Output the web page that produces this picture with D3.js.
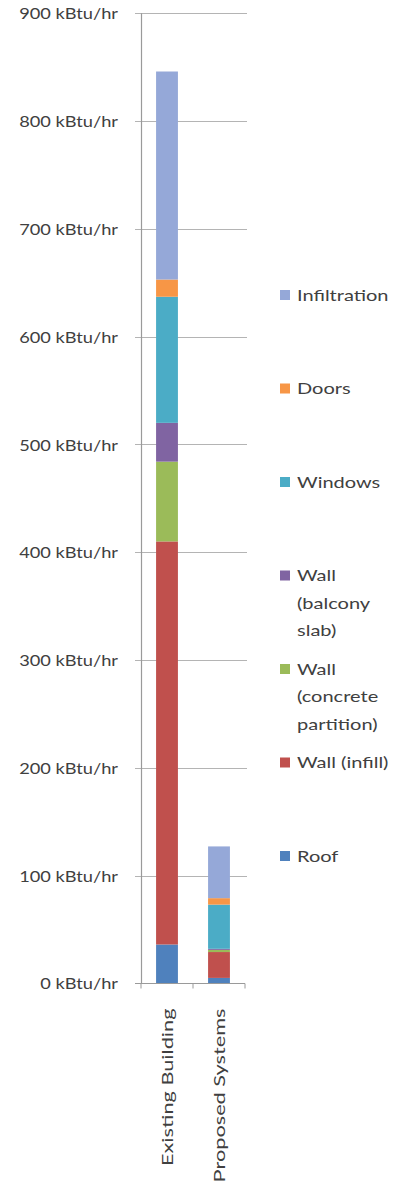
<!DOCTYPE html>
<html>
<head>
<meta charset="utf-8">
<script src="https://cdn.jsdelivr.net/npm/d3@7"></script>
<style>
  html, body { margin: 0; padding: 0; background: #fff; }
  svg { display: block; }
  text { font-family: Lato, "Open Sans", sans-serif; fill: #404040; }
</style>
</head>
<body>
<svg id="chart" width="405" height="1189"></svg>
<script>
// ---------------- data ----------------
const categories = ["Existing Building", "Proposed Systems"];
const seriesNames = ["Roof", "Wall (infill)", "Wall (concrete partition)", "Wall (balcony slab)", "Windows", "Doors", "Infiltration"];
const roof          = [36, 5];
const wallInfill    = [374, 24];
const wallConcrete  = [74, 2];
const wallBalcony   = [36, 1];
const windows       = [117, 41];
const doors         = [16, 6];
const infiltration  = [193, 48];
const yTickValues   = [0, 100, 200, 300, 400, 500, 600, 700, 800, 900];
const yTickSuffix   = " kBtu/hr";
const legendLines = {
  "Infiltration": ["Infiltration"],
  "Doors": ["Doors"],
  "Windows": ["Windows"],
  "Wall (balcony slab)": ["Wall", "(balcony", "slab)"],
  "Wall (concrete partition)": ["Wall", "(concrete", "partition)"],
  "Wall (infill)": ["Wall (infill)"],
  "Roof": ["Roof"]
};

// ---------------- styles / layout ----------------
const colors = ["#4F81BD", "#C0504D", "#9BBB59", "#8064A2", "#4BACC6", "#F79646", "#95A8D8"];
const seriesValues = [roof, wallInfill, wallConcrete, wallBalcony, windows, doors, infiltration];

const plotLeft = 141, plotRight = 245, plotTop = 13.3, plotBottom = 983.3;
const fontSize = 16;
const yStretch = 1.14, xStretch = 1.36, legendStretch = 1.25;
const textColor = "#444";

const svg = d3.select("#chart");

const rows = categories.map((c, i) => {
  const r = { category: c };
  seriesNames.forEach((s, j) => r[s] = seriesValues[j][i]);
  return r;
});
const stacked = d3.stack().keys(seriesNames)(rows);

const x = d3.scaleBand().domain(categories).range([plotLeft, plotRight])
  .paddingInner(0.58).paddingOuter(0.29);
const y = d3.scaleLinear().domain([0, 900]).range([plotBottom, plotTop]);

// gridlines
svg.append("g").attr("class", "grid")
  .selectAll("line").data(yTickValues.filter(d => d > 0)).join("line")
  .attr("x1", plotLeft - 6).attr("x2", plotRight + 2)
  .attr("y1", d => Math.round(y(d)) + 0.5).attr("y2", d => Math.round(y(d)) + 0.5)
  .attr("stroke", "#b4b4b4").attr("stroke-width", 1.2);

// bars
svg.append("g").selectAll("g").data(stacked).join("g")
  .attr("fill", (d, i) => colors[i])
  .selectAll("rect").data(d => d).join("rect")
  .attr("x", d => x(d.data.category))
  .attr("width", x.bandwidth())
  .attr("y", d => y(d[1]))
  .attr("height", d => y(d[0]) - y(d[1]));

// y axis
const yAxis = d3.axisLeft(y).tickValues(yTickValues).tickSize(0).tickFormat(d => d + yTickSuffix);
const gy = svg.append("g").attr("transform", `translate(${plotLeft},0)`).call(yAxis);
gy.select(".domain").remove();
gy.selectAll(".tick text")
  .attr("x", 0).attr("dy", "0.35em")
  .attr("transform", `translate(-23,0) scale(${yStretch},1)`)
  .attr("text-anchor", "end")
  .style("font-size", fontSize + "px").style("font-family", "Lato, sans-serif").attr("fill", textColor);
svg.append("line").attr("x1", plotLeft + 0.5).attr("x2", plotLeft + 0.5)
  .attr("y1", plotTop).attr("y2", plotBottom).attr("stroke", "#9a9a9a").attr("stroke-width", 1.2);
svg.append("line").attr("x1", plotLeft - 6).attr("x2", plotLeft)
  .attr("y1", Math.round(y(0)) + 0.5).attr("y2", Math.round(y(0)) + 0.5).attr("stroke", "#9a9a9a");

// x axis
const xAxis = d3.axisBottom(x).tickSize(0);
const gx = svg.append("g").attr("transform", `translate(0,${Math.round(plotBottom) + 0.5})`).call(xAxis);
gx.select(".domain").attr("stroke", "#9a9a9a").attr("stroke-width", 1.2)
  .attr("d", `M${plotLeft},0H${plotRight}`);
const step = x.step();
const tickXs = [plotLeft, plotLeft + step, plotRight];
gx.selectAll(".xt").data(tickXs).join("line").attr("class", "xt")
  .attr("x1", d => d).attr("x2", d => d).attr("y1", 0).attr("y2", 5).attr("stroke", "#9a9a9a");
gx.selectAll(".tick text")
  .attr("x", 0).attr("y", 0).attr("dy", "0.35em")
  .attr("transform", `rotate(-90) translate(-25,0) scale(${xStretch},1)`)
  .attr("text-anchor", "end")
  .style("font-size", fontSize + "px").style("font-family", "Lato, sans-serif").attr("fill", textColor);

// legend
const legendOrder = seriesNames.slice().reverse();
const legendTop = 295, legendStep = 93.5, lineH = 27.5;
const lg = svg.append("g");
legendOrder.forEach((name, i) => {
  const cy = legendTop + i * legendStep;
  const ci = seriesNames.indexOf(name);
  lg.append("rect").attr("x", 280).attr("y", cy - 5).attr("width", 10).attr("height", 10)
    .attr("fill", colors[ci]);
  legendLines[name].forEach((ln, k) => {
    lg.append("text")
      .attr("transform", `translate(297,${cy + k * lineH}) scale(${legendStretch},1)`)
      .attr("dy", "0.35em")
      .style("font-size", fontSize + "px").attr("fill", textColor)
      .text(ln);
  });
});
</script>
</body>
</html>
